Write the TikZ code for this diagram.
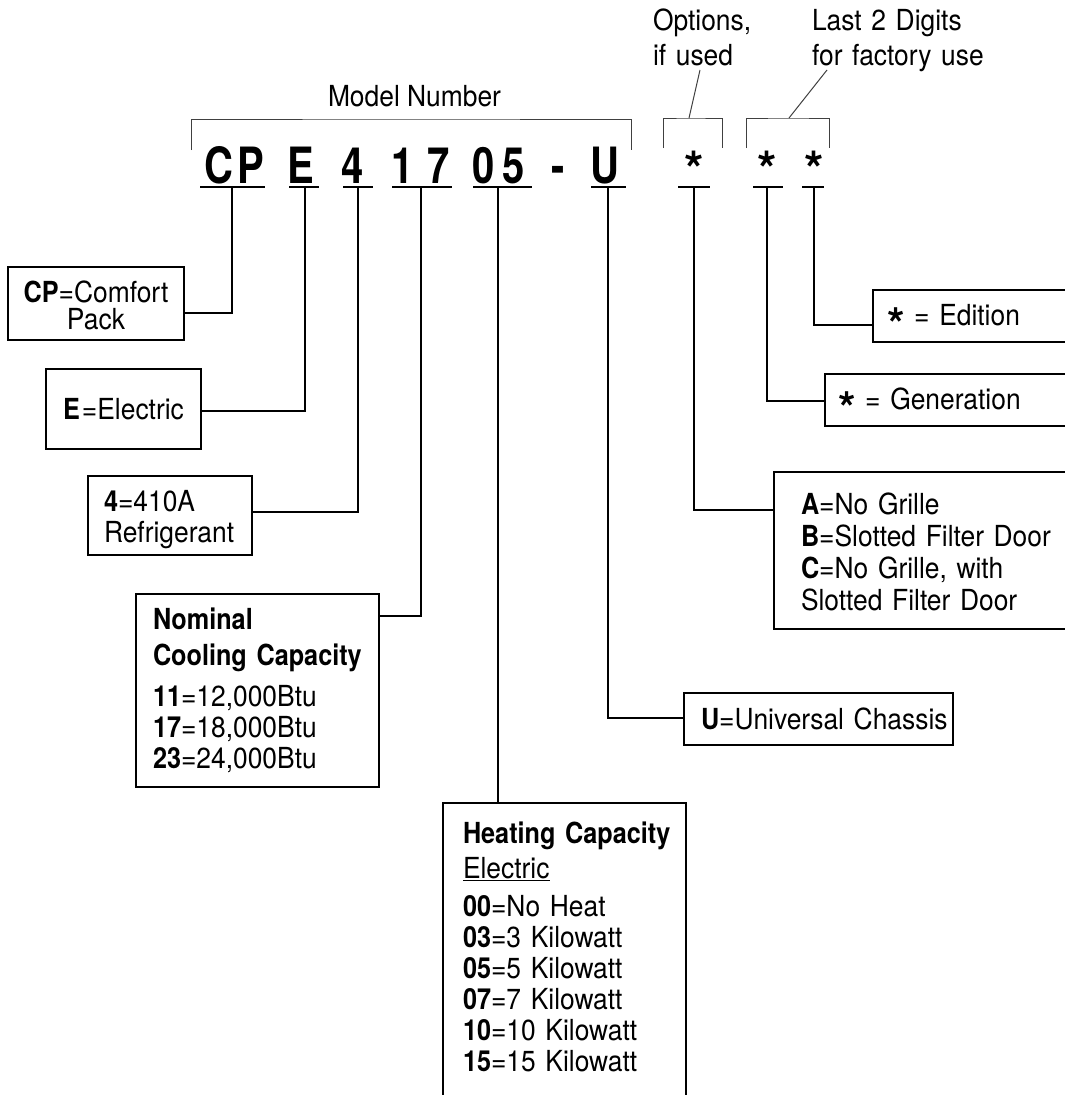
\documentclass[tikz,border=0pt]{standalone}
\usepackage{fontspec}
\setmainfont{TeX Gyre Heros}[FakeStretch=0.91, BoldFeatures={FakeStretch=0.87}]
\newfontfamily\bigfont{TeX Gyre Heros}[FakeStretch=0.8]
\newfontfamily\starfont{TeX Gyre Heros}
\usetikzlibrary{calc}
\newcommand{\pad}[1]{\leftskip=#1pt\relax}
\newcommand{\bstar}{\raisebox{-15pt}{\starfont\bfseries\fontsize{45}{45}\selectfont *}}
\begin{document}
\begin{tikzpicture}[x=1pt,y=-1pt,
  every node/.style={inner sep=0pt, outer sep=0pt},
  txt/.style={font=\fontsize{29}{31}\selectfont},
  box/.style={draw, line width=1.4pt, anchor=north west, align=left, font=\fontsize{29}{31}\selectfont},
  conn/.style={line width=1.4pt},
  brk/.style={line width=1pt, black!75},
  letter/.style={anchor=base, font=\bigfont\bfseries\fontsize{50}{50}\selectfont},
  starl/.style={anchor=base, font=\starfont\bfseries\fontsize{50}{50}\selectfont}]
\useasboundingbox (0,0) rectangle (1065,1095);

% top labels
\node[txt, anchor=base west] (mn) at (328,106) {Model Number};
\node[anchor=base west, text width=120pt, align=left, font=\fontsize{29}{35}\selectfont] (opt) at (653,30) {Options,\\if used};
\node[anchor=base west, text width=200pt, align=left, font=\fontsize{29}{35}\selectfont] (last) at (812,30) {Last 2 Digits\\for factory use};

% brackets
\coordinate (mbL) at (191,150); \coordinate (mbR) at (631,150); \coordinate (mbT) at (411,119);
\draw[brk] (mbL) |- (mbT) -| (mbR);
\coordinate (obL) at (663,148); \coordinate (obR) at (722,148); \coordinate (optB) at (689,118);
\draw[brk] (obL) |- (optB) -| (obR);
\coordinate (lbL) at (746,148); \coordinate (lbR) at (829,148); \coordinate (lastB) at (789,118);
\draw[brk] (lbL) |- (lastB) -| (lbR);
\coordinate (optTip) at (700,70);
\coordinate (lastTip) at (827,70);
\draw[brk] (optB) -- (optTip);
\draw[brk] (lastB) -- (lastTip);

% model letters
\node[letter] (lC) at (219,183) {C};
\node[letter] (lP) at (251,183) {P};
\node[letter] (lE) at (301,183) {E};
\node[letter] (l4) at (353,183) {4};
\node[letter] (l1) at (403,183) {1};
\node[letter] (l7) at (439,183) {7};
\node[letter] (l0) at (484,183) {0};
\node[letter] (l5) at (514,183) {5};
\node[letter] (ld) at (558,183) {-};
\node[letter] (lU) at (605,183) {U};
\node[starl] (s1) at (694,187) {*};
\node[starl] (s2) at (767,187) {*};
\node[starl] (s3) at (814,187) {*};

% underline anchors
\coordinate (uCP) at (232,187);
\coordinate (uE) at (305,187);
\coordinate (u4) at (358,187);
\coordinate (u17) at (421,187);
\coordinate (u05) at (498,187);
\coordinate (uU) at (608,187);
\coordinate (uS1) at (694,187);
\coordinate (uS2) at (767,187);
\coordinate (uS3) at (814,187);
\draw[conn] ([xshift=-32pt]uCP) -- ([xshift=33pt]uCP);
\draw[conn] ([xshift=-16pt]uE) -- ([xshift=14pt]uE);
\draw[conn] ([xshift=-15pt]u4) -- ([xshift=15pt]u4);
\draw[conn] ([xshift=-29pt]u17) -- ([xshift=31pt]u17);
\draw[conn] ([xshift=-25pt]u05) -- ([xshift=34pt]u05);
\draw[conn] ([xshift=-17pt]uU) -- ([xshift=18pt]uU);
\draw[conn] ([xshift=-16pt]uS1) -- ([xshift=16pt]uS1);
\draw[conn] ([xshift=-14pt]uS2) -- ([xshift=16pt]uS2);
\draw[conn] ([xshift=-12pt]uS3) -- ([xshift=10pt]uS3);

% boxes
\node[box, text width=176pt, text height=35pt, text depth=38pt, align=center, font=\fontsize{29}{27}\selectfont] (bCP) at (8,267) {\textbf{CP}=Comfort\\Pack};
\node[box, text width=155pt, text height=50pt, text depth=30pt, align=center] (bE) at (46,369) {\textbf{E}\kern2pt=Electric};
\node[box, text width=164pt, text height=35pt, text depth=44pt] (b4) at (88,476) {\pad{16}\textbf{4}=410A\\Refrigerant\par};
\node[box, text width=243pt, text height=35pt, text depth=158pt] (bN) at (136,594) {\pad{17}\textbf{Nominal}\\[5pt]\textbf{Cooling Capacity}\\[10pt]\textbf{11}=12,000Btu\\\textbf{17}=18,000Btu\\\textbf{23}=24,000Btu\par};
\node[box, text width=243pt, text height=40pt, text depth=287pt] (bH) at (443,803) {\pad{20}\textbf{Heating Capacity}\\[4pt]\underline{Electric}\\[7pt]\textbf{00}=No Heat\\\textbf{03}=3 Kilowatt\\\textbf{05}=5 Kilowatt\\\textbf{07}=7 Kilowatt\\\textbf{10}=10 Kilowatt\\\textbf{15}=15 Kilowatt\par};
\node[box, text width=269pt, text height=36pt, text depth=16pt] (bU) at (684,693) {\pad{17}\textbf{U}=Universal Chassis\par};
\node[box, text width=330pt, text height=42pt, text depth=115pt, font=\fontsize{29}{32.3}\selectfont] (bABC) at (774,472) {\pad{27}\textbf{A}=No Grille\\\textbf{B}=Slotted Filter Door\\\textbf{C}=No Grille, with\\Slotted Filter Door\par};
\node[box, text width=280pt, text height=35pt, text depth=17pt] (bGen) at (825,374) {\pad{13}\bstar{} = Generation\par};
\node[box, text width=230pt, text height=35pt, text depth=17pt] (bEd) at (873,290) {\pad{14}\bstar{} = Edition\par};

% connectors
\draw[conn] (uCP) |- ([yshift=-46pt]bCP.north east);
\draw[conn] (uE) |- ([yshift=-42pt]bE.north east);
\draw[conn] (u4) |- ([yshift=-36pt]b4.north east);
\draw[conn] (u17) |- ([yshift=-22pt]bN.north east);
\draw[conn] (u05) -- (u05 |- bH.north);
\draw[conn] (uU) |- ([yshift=-25pt]bU.north west);
\draw[conn] (uS1) |- ([yshift=-38pt]bABC.north west);
\draw[conn] (uS2) |- ([yshift=-27pt]bGen.north west);
\draw[conn] (uS3) |- ([yshift=-35pt]bEd.north west);
\end{tikzpicture}
\end{document}
